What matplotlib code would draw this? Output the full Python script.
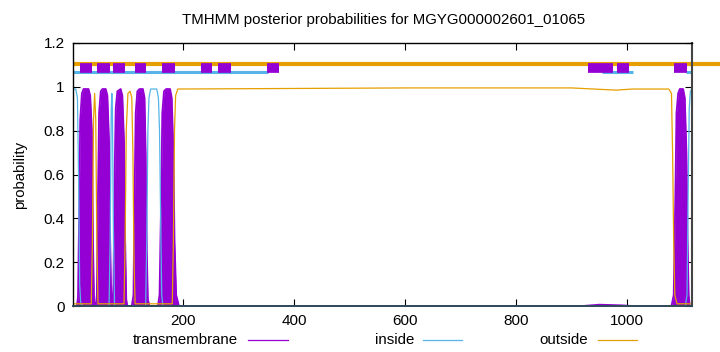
import matplotlib
matplotlib.use("Agg")
import matplotlib.pyplot as plt
from matplotlib.lines import Line2D

plt.rcParams['font.family'] = ['Liberation Sans', 'DejaVu Sans']

title = "TMHMM posterior probabilities for MGYG000002601_01065"
seq_len = 1117
x_ticks = [200, 400, 600, 800, 1000]
y_ticks = [0, 0.2, 0.4, 0.6, 0.8, 1.0, 1.2]
y_tick_labels = ["0", "0.2", "0.4", "0.6", "0.8", "1", "1.2"]
legend_labels = ["transmembrane", "inside", "outside"]
colors = {"tm": "#9400D3", "inside": "#56B4E9", "outside": "#E69F00"}

# transmembrane posterior probability (breakpoints)
tm_pos = [1, 8, 10, 12, 14, 17, 20, 29, 32, 35, 37, 39, 41,
          42, 44, 46, 48, 51, 54, 60, 63, 66, 68, 70, 71,
          72, 74, 76, 78, 81, 87, 90, 93, 95, 97, 99,
          107, 110, 112, 114, 117, 121, 127, 130, 132, 134, 136, 139,
          154, 157, 160, 162, 165, 169, 176, 179, 182, 184, 187, 192,
          920, 950, 990, 1010,
          1080, 1084, 1087, 1089, 1092, 1095, 1101, 1104, 1107, 1109, 1111, 1113, 1117]
tm_val = [0, 0, 0.04, 0.4, 0.85, 0.97, 0.99, 0.99, 0.96, 0.8, 0.3, 0.02, 0,
          0, 0.05, 0.5, 0.88, 0.98, 0.99, 0.99, 0.96, 0.75, 0.3, 0.02, 0,
          0, 0.1, 0.6, 0.9, 0.98, 0.99, 0.96, 0.75, 0.3, 0.03, 0,
          0, 0.05, 0.5, 0.88, 0.98, 0.99, 0.99, 0.95, 0.7, 0.25, 0.03, 0,
          0, 0.05, 0.5, 0.88, 0.98, 0.99, 0.99, 0.95, 0.7, 0.3, 0.05, 0,
          0, 0.006, 0.003, 0,
          0, 0.05, 0.5, 0.88, 0.97, 0.99, 0.99, 0.95, 0.7, 0.3, 0.05, 0, 0]

# inside posterior probability
in_pos = [1, 6, 9, 11, 13, 15, 20,
          66, 68, 70, 71, 72, 74, 76,
          132, 134, 136, 138, 141, 152, 155, 157, 159, 161, 163,
          1105, 1108, 1110, 1112, 1114, 1117]
in_val = [0.99, 0.99, 0.95, 0.6, 0.1, 0.01, 0,
          0, 0.3, 0.9, 0.97, 0.9, 0.3, 0,
          0, 0.3, 0.8, 0.95, 0.99, 0.99, 0.95, 0.8, 0.4, 0.05, 0,
          0, 0.05, 0.5, 0.9, 0.98, 0.99]

# outside posterior probability
out_pos = [1, 30, 34, 36, 38, 40, 42, 44, 46,
           93, 95, 97, 100, 104, 107, 109, 111, 113,
           180, 182, 184, 186, 190, 600, 900, 940, 980, 1010, 1075, 1080, 1082, 1084, 1086, 1090, 1117]
out_val = [0.01, 0.01, 0.01, 0.3, 0.85, 0.97, 0.85, 0.3, 0.01,
           0.01, 0.3, 0.8, 0.97, 0.98, 0.95, 0.7, 0.2, 0.01,
           0.01, 0.3, 0.8, 0.96, 0.99, 0.995, 0.995, 0.99, 0.985, 0.99, 0.99, 0.97, 0.7, 0.3, 0.05, 0.01, 0.01]

# predicted topology bars above the plot
topo_tm = [(13, 36), (45, 68), (74, 95), (112, 133), (162, 184), (231, 252),
           (263, 285), (351, 373), (930, 975), (982, 1004), (1085, 1108)]
topo_inside = [(1, 352), (955, 1010), (1106, 1117)]
topo_outside = [(1, 1170)]
topo_levels = {"tm": 1.088, "inside": 1.068, "outside": 1.105}

fig = plt.figure(figsize=(7.2, 3.52), dpi=100)
ax = fig.add_axes([73/720, 1-306/352, (692-73)/720, (306-43)/352])

ax.fill_between(tm_pos, 0, tm_val, color=colors["tm"], lw=0, zorder=2)
ax.plot(tm_pos, tm_val, color=colors["tm"], lw=1.3, zorder=2)
ax.plot(in_pos, in_val, color=colors["inside"], lw=0.9, zorder=3)
ax.plot(out_pos, out_val, color=colors["outside"], lw=0.9, zorder=4)

for a, b in topo_outside:
    ax.plot([a, b], [topo_levels["outside"]]*2, color=colors["outside"], lw=3.0,
            solid_capstyle='butt', zorder=5, clip_on=False)
for a, b in topo_inside:
    ax.plot([a, b], [topo_levels["inside"]]*2, color=colors["inside"], lw=2.2,
            solid_capstyle='butt', zorder=5)
for a, b in topo_tm:
    ax.plot([a, b], [topo_levels["tm"]]*2, color=colors["tm"], lw=7.0,
            solid_capstyle='butt', zorder=6)

ax.set_xlim(1, seq_len)
ax.set_ylim(0, 1.2)
ax.set_xticks(x_ticks)
ax.set_xticklabels([str(t) for t in x_ticks])
ax.set_yticks(y_ticks)
ax.set_yticklabels(y_tick_labels)
ax.tick_params(direction='in', length=5, width=0.8, top=True, right=True,
               labelsize=11, pad=6, colors='black')
for s in ax.spines.values():
    s.set_linewidth(1.0)
    s.set_zorder(7)
ax.spines['bottom'].set_color('#2f4a5a')
ax.spines['bottom'].set_linewidth(1.4)
ax.spines['right'].set_color('#444444')
ax.spines['right'].set_linewidth(1.5)

ax.set_ylabel("probability", fontsize=10.7, labelpad=12)
fig.text(384/720, 1-20/352, title, ha='center', va='center', fontsize=10.8)

leg_y = 1 - 340/352
leg_text_right = [238, 414, 588]
leg_line = [(248, 288), (423, 462), (598, 637)]
leg_colors = [colors["tm"], colors["inside"], colors["outside"]]
for lab, tr, (l0, l1), c in zip(legend_labels, leg_text_right, leg_line, leg_colors):
    fig.text(tr/720, leg_y, lab, ha='right', va='center', fontsize=10.8)
    fig.add_artist(Line2D([l0/720, l1/720], [leg_y, leg_y], color=c, lw=0.9,
                          transform=fig.transFigure))

fig.savefig("out.png", dpi=100)
